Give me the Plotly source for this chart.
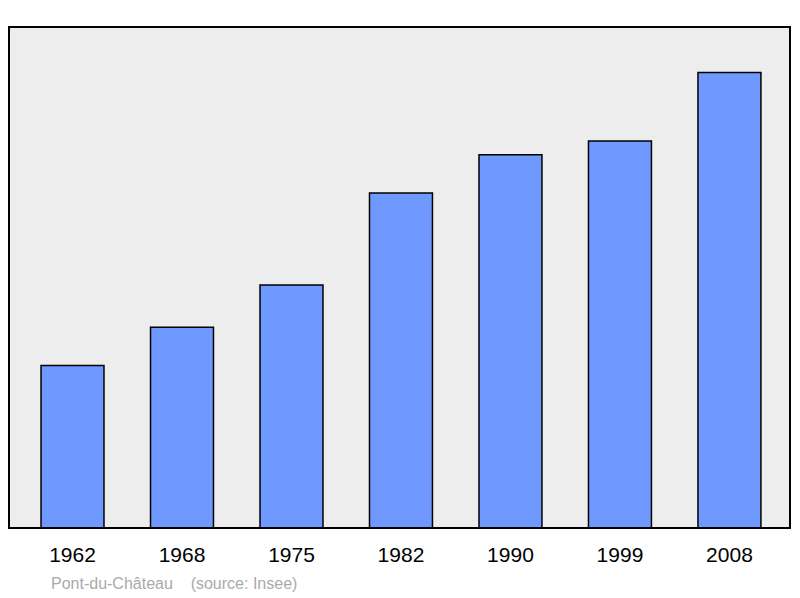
import plotly.graph_objects as go

years = ["1962", "1968", "1975", "1982", "1990", "1999", "2008"]
population = [3727, 4605, 5574, 7683, 8562, 8874, 10446]
labels = [f"{v:,}".replace(",", " ") for v in population]

fig = go.Figure(go.Bar(
    x=years, y=population,
    marker=dict(color="#7099ff", line=dict(color="black", width=1.5)),
    width=0.575,
))

# value labels above bars
for yr, v, lab in zip(years, population, labels):
    fig.add_annotation(x=yr, y=v, text=lab, showarrow=False, yanchor="bottom", yshift=10,
                       font=dict(size=19, color="black"))

fig.add_shape(type="rect", xref="paper", yref="paper", x0=0, y0=0, x1=1, y1=1,
              line=dict(color="black", width=2), layer="above")
fig.add_annotation(text="Pont-du-Château    (source: Insee)", xref="paper", yref="paper",
                   x=0.051, y=-0.11, xanchor="left", yanchor="middle", showarrow=False,
                   font=dict(size=16, color="#aaaaaa"))

fig.update_layout(
    width=800, height=598,
    margin=dict(l=1, r=18, t=19, b=78),
    paper_bgcolor="white", plot_bgcolor="#ededed",
    font=dict(family="Liberation Sans, Arial, sans-serif"),
    showlegend=False,
    xaxis=dict(range=[-0.58, 6.553], showgrid=False, ticks="", ticklabelstandoff=12,
               tickfont=dict(size=21, color="black")),
    yaxis=dict(range=[0, 11490], showgrid=False, showticklabels=False, zeroline=False),
)
fig.write_html("out.html")
